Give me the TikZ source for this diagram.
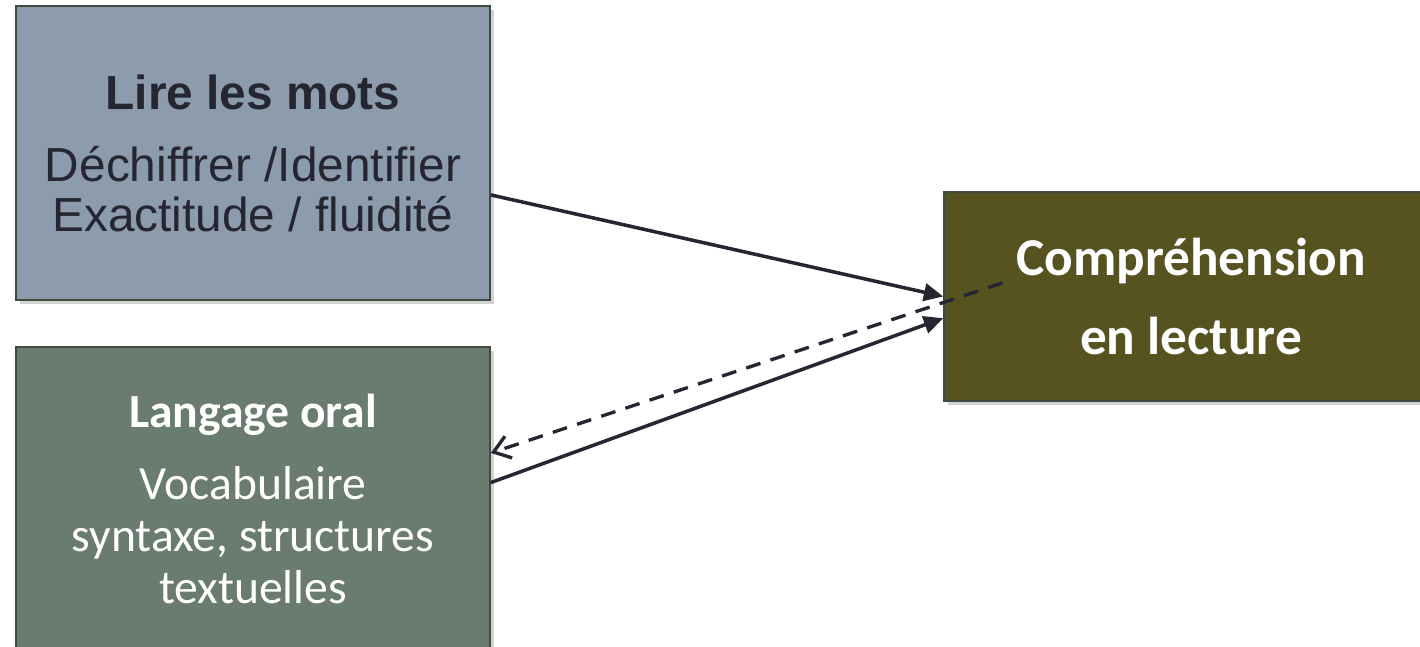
\documentclass[tikz,border=0pt]{standalone}
\usepackage{fontspec}
\usetikzlibrary{positioning,arrows.meta,calc,shadows}
\newfontfamily\arialfont{Liberation Sans}
\newfontfamily\calfont{Carlito}
\definecolor{wordsblue}{RGB}{140,156,172}
\definecolor{oralgreen}{RGB}{106,124,112}
\definecolor{readolive}{RGB}{87,83,33}
\definecolor{boxedge}{RGB}{62,74,66}
\definecolor{inkdark}{RGB}{38,38,51}

\begin{document}
\begin{tikzpicture}[x=0.02cm,y=-0.02cm,
  box/.style={draw=boxedge,line width=1pt,inner sep=0pt,align=center,
    drop shadow={shadow xshift=2.5pt,shadow yshift=-2.5pt,opacity=0.35}},
  link/.style={draw=inkdark,line width=2pt,-{Triangle[length=11pt,width=10pt]}},
  backlink/.style={draw=inkdark,line width=1.9pt,dash pattern=on 8.5pt off 6pt,
    -{Straight Barb[length=9pt,width=13pt]}}]
  \useasboundingbox (0,0) rectangle (1420,646);
  \node[box,fill=wordsblue,minimum width=9.48cm,minimum height=5.88cm,text=inkdark,
    font=\arialfont\fontsize{27.2}{28.5}\selectfont] (A) at (253,153)
    {{\bfseries Lire les mots}\\[12.5pt]D\'echiffrer /Identifier\\Exactitude / fluidit\'e};
  \node[box,fill=oralgreen,minimum width=9.48cm,minimum height=6.1cm,text=white,
    font=\calfont\fontsize{27.1}{29.6}\selectfont,below=0.9cm of A] (B)
    {{\bfseries Langage oral}\\[11.4pt]Vocabulaire\\syntaxe, structures\\textuelles};
  \node[box,fill=readolive,minimum width=9.88cm,minimum height=4.18cm,text=white,
    font=\calfont\bfseries\fontsize{30.3}{45.5}\selectfont] (C) at (1191,296.5)
    {Compr\'ehension\\en lecture};
  \coordinate (Cin) at ($(C.west)+(59,-13.5)$);
  \draw[link] (A.-10) -- (C.west);
  \draw[link] (B.4) -- (C.185);
  \draw[backlink] (Cin) -- (B.11);
\end{tikzpicture}
\end{document}
